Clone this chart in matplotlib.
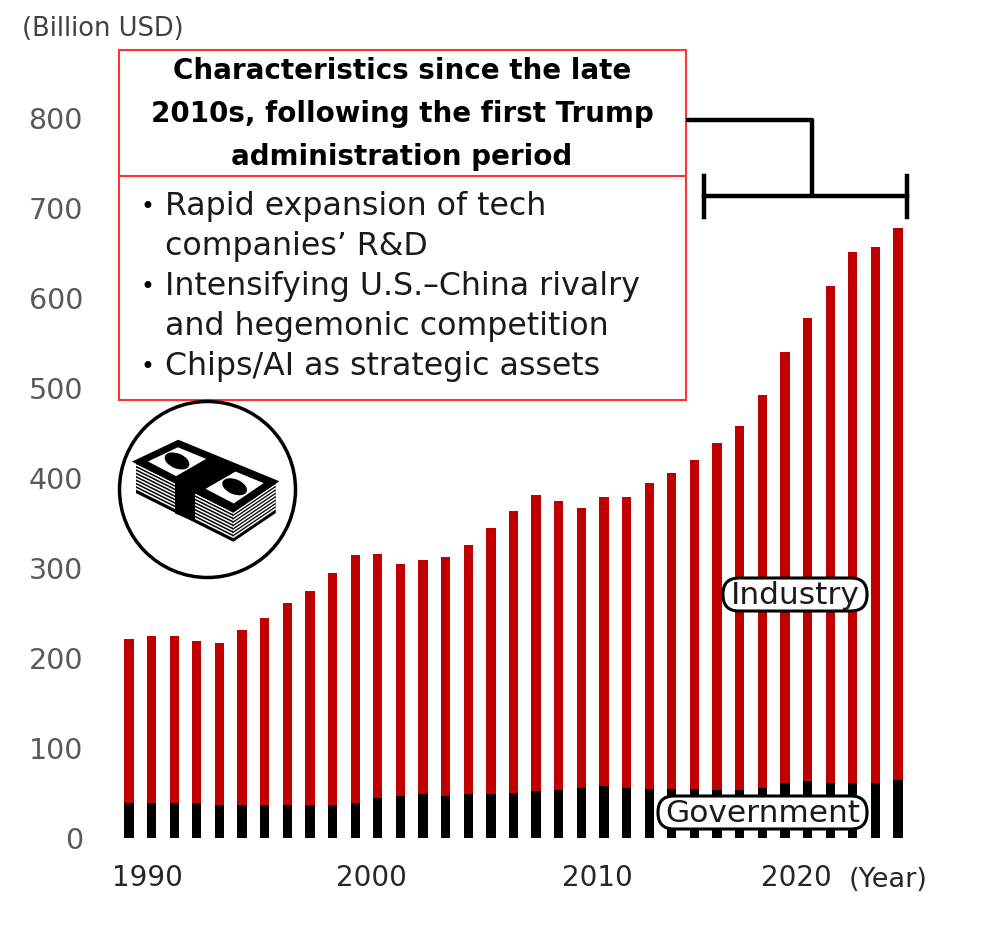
import numpy as np
import matplotlib
matplotlib.use('Agg')
from matplotlib import pyplot as plt
from matplotlib import patches

# Meiryo's latin letters come from Verdana, DejaVu Sans is the nearest installed
plt.rcParams['font.family'] = ['DejaVu Sans']

# business R&D by source of funds, billion USD
years = list(range(1989, 2024))
government = [39, 39, 39, 39, 37, 37, 37, 37, 37, 37, 39, 45, 47, 49, 47, 49, 49, 50,
              52, 53, 56, 58, 56, 54, 54, 54, 53, 53, 56, 61, 63, 61, 61, 61, 64]
industry = [182, 186, 186, 180, 180, 194, 208, 224, 238, 257, 275, 271, 257, 260, 265, 277,
            295, 313, 329, 321, 311, 321, 323, 340, 352, 366, 386, 405, 436, 479, 515, 552,
            590, 596, 614]
year_ticks = [1989.8, 1999.7, 2009.7, 2018.5]   # labels were hand-placed in the source
year_labels = ['1990', '2000', '2010', '2020']
y_ticks = list(range(0, 801, 100))

box_title = ['Characteristics since the late',
             '2010s, following the first Trump',
             'administration period']
box_bullets = [('•', 'Rapid expansion of tech'), ('', 'companies\u2019 R&D'),
               ('•', 'Intensifying U.S.\u2013China rivalry'), ('', 'and hegemonic competition'),
               ('•', 'Chips/AI as strategic assets')]

RED = '#C00000'

fig = plt.figure(figsize=(10, 9.32), dpi=100)
ax = fig.add_axes([0.1177, 0.10086, 0.7916, 0.7725])

x = np.array(years)
ax.bar(x, government, width=0.41, color='black', zorder=2)
ax.bar(x, industry, width=0.41, bottom=government, color=RED, zorder=2)

ax.set_xlim(1988.5, 2023.5)
ax.set_ylim(0, 800)
for s in ax.spines.values():
    s.set_visible(False)
ax.set_yticks(y_ticks)
ax.set_yticklabels([str(v) for v in y_ticks], color='#595959', fontsize=20.5)
ax.tick_params(axis='y', length=0, pad=25)
ax.set_xticks(year_ticks)
ax.set_xticklabels(year_labels, color='#262626', fontsize=20)
ax.tick_params(axis='x', length=0, pad=19)
ax.patch.set_alpha(0)

# overlay in pixel units for the annotations
ov = fig.add_axes([0, 0, 1, 1])
ov.set_xlim(0, 1000)
ov.set_ylim(932, 0)
ov.axis('off')
ov.patch.set_alpha(0)

ov.text(22, 29, '(Billion USD)', fontsize=18.5, color='#404040', ha='left', va='center')
ov.text(888, 880, '(Year)', fontsize=19.5, color='#262626', ha='center', va='center')

# red framed text box
ov.add_patch(patches.Rectangle((119, 50), 567, 350, facecolor='white',
                               edgecolor='#FF3333', lw=1.5, zorder=3))
ov.plot([119, 686], [176, 176], color='#FF3333', lw=1.5, zorder=4)
for i, line in enumerate(box_title):
    ov.text(402, 71 + 43 * i, line, fontsize=20, fontweight='bold', ha='center',
            va='center', color='black', zorder=5)
for i, (b, line) in enumerate(box_bullets):
    yy = 207 + 40 * i
    if b:
        ov.text(147, yy, b, fontsize=17, ha='center', va='center', zorder=5)
    ov.text(165, yy, line, fontsize=22.8, ha='left', va='center', color='#1a1a1a', zorder=5)

# bracket
lw = 3.2
ov.plot([686, 812, 812], [120, 120, 196], color='black', lw=lw, solid_capstyle='butt', zorder=5)
ov.plot([704, 907], [196, 196], color='black', lw=lw, zorder=5)
ov.plot([704, 704], [176, 217], color='black', lw=lw, zorder=5)
ov.plot([907, 907], [176, 217], color='black', lw=lw, zorder=5)

# series labels
for (x0, y0, w, h, txt) in [(707, 578, 176, 33, 'Industry'), (642, 796, 241, 33, 'Government')]:
    ov.add_patch(patches.FancyBboxPatch((x0 + 16, y0), w - 32, h,
                                        boxstyle='round,pad=0,rounding_size=16',
                                        facecolor='white', edgecolor='black', lw=2.2,
                                        mutation_aspect=1, zorder=5))
    ov.text(x0 + w / 2, y0 + h / 2 + 1, txt, fontsize=22.5, ha='center', va='center',
            color='#1a1a1a', zorder=6)

# money icon
ov.add_patch(patches.Circle((207.5, 489.5), 88, facecolor='white', edgecolor='black',
                            lw=2.5, zorder=3))
L = np.array([136.7, 461.7]); B = np.array([178.3, 442.0])
R = np.array([275.0, 481.7]); F = np.array([233.3, 510.0])
th = np.array([0, 31.0])
# side faces with stripes
for p, q in [(L, F), (F, R)]:
    ov.add_patch(patches.Polygon([p, q, q + th, p + th], closed=True, facecolor='black',
                                 edgecolor='black', lw=1, zorder=4))
    for k in np.arange(3.5, 30, 3.4):
        ov.plot([p[0], q[0]], [p[1] + k, q[1] + k], color='white', lw=1.1, zorder=4)
# band wrapping around
u = (R - B) / np.linalg.norm(R - B)
d = u * 10
mLF = (L + F) / 2; mBR = (B + R) / 2
ov.add_patch(patches.Polygon([mLF - d, mLF + d, mLF + d + th, mLF - d + th], closed=True,
                             facecolor='black', edgecolor='black', zorder=4))
# top face, two bill halves
ov.add_patch(patches.Polygon([L, B, R, F], closed=True, facecolor='white',
                             edgecolor='black', lw=3, zorder=4))
for half in [(L, B, mBR - d, mLF - d), (mLF + d, mBR + d, R, F)]:
    c = np.mean(half, axis=0)
    inner = [c + 0.72 * (p - c) for p in half]
    ov.add_patch(patches.Polygon(half, closed=True, facecolor='black', zorder=4))
    ov.add_patch(patches.Polygon(inner, closed=True, facecolor='white', zorder=4))
    ov.add_patch(patches.Ellipse(c, 26, 15, angle=np.degrees(np.arctan2(u[1], u[0])),
                                 facecolor='black', zorder=4))
ov.add_patch(patches.Polygon([mLF - d, mBR - d, mBR + d, mLF + d], closed=True,
                             facecolor='black', edgecolor='black', zorder=4))

fig.savefig('out.png', dpi=100)
